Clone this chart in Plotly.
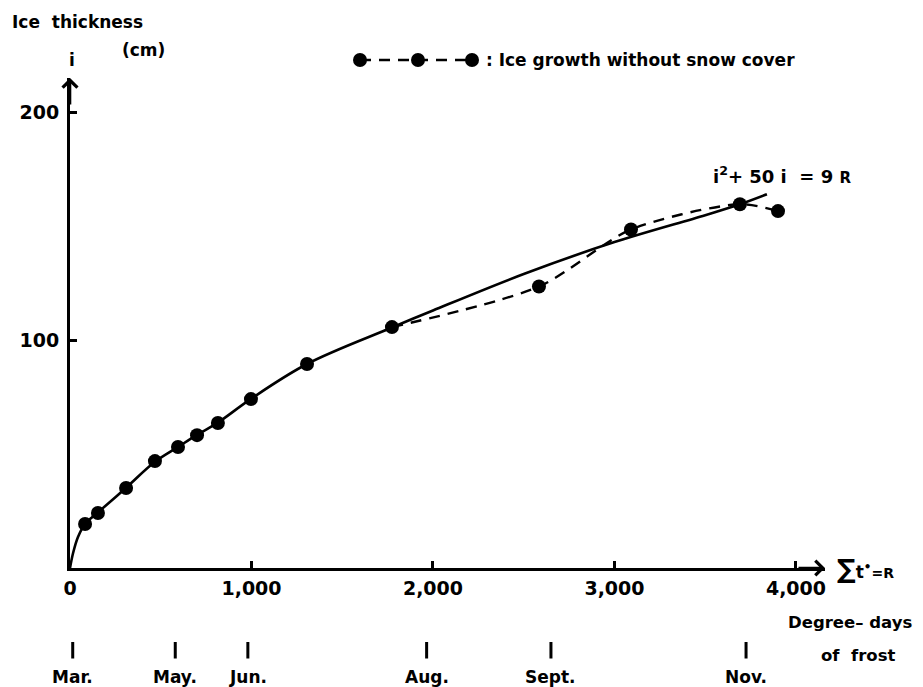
import plotly.graph_objects as go

# ---- data ----
R_obs = [83, 154, 309, 468, 595, 700, 815, 997, 1306, 1774, 2584, 3091, 3691, 3901]
i_obs = [19.3, 24.1, 35.1, 46.9, 53.1, 58.3, 63.6, 74.1, 89.5, 105.7, 123.5, 148.5, 159.6, 156.6]

# fitted curve i^2 + 50 i = 9R (as drawn)
R_fit = [0, 17, 44, 83, 154, 309, 468, 595, 700, 815, 997, 1306, 1774, 2000, 2500, 3000, 3500, 3691, 3840]
i_fit = [0, 6.6, 13.6, 19.3, 24.4, 35.2, 46.6, 53.1, 58.4, 63.8, 74.2, 89.5, 105.5, 113.0, 129.0, 143.0, 154.8, 159.6, 164.0]

# without snow cover (dashed), from Aug. onward
R_dash = R_obs[9:]
i_dash = i_obs[9:]

x_ticks = [0, 1000, 2000, 3000, 4000]
x_ticktext = ["0", "1,000", "2,000", "3,000", "4,000"]
y_ticks = [100, 200]
y_ticktext = ["100", "200"]

months = ["Mar.", "May.", "Jun.", "Aug.", "Sept.", "Nov."]
month_R = [15, 580, 980, 1965, 2650, 3725]

FONT = "DejaVu Sans"
W, H = 923, 687
L, R_, T, B = 70, 98, 78, 119
PW, PH = W - L - R_, H - T - B
XMAX, YMAX = 4160, 215


def px(x):
    return (x - L) / PW


def py(y):
    return (H - B - y) / PH


fig = go.Figure()

fig.add_trace(go.Scatter(
    x=R_fit, y=i_fit, mode="lines", line=dict(color="black", width=2.6, shape="spline", smoothing=1.0),
    hoverinfo="skip", showlegend=False))

fig.add_trace(go.Scatter(
    x=R_dash, y=i_dash, mode="lines", line=dict(color="black", width=2.4, dash="11px,8px", shape="spline", smoothing=0.8),
    hoverinfo="skip", showlegend=False))

fig.add_trace(go.Scatter(
    x=R_obs, y=i_obs, mode="markers", marker=dict(color="black", size=14),
    showlegend=False, cliponaxis=False))

annotations = []
# axis arrows
annotations.append(dict(x=XMAX, y=0, xref="x", yref="y", ax=-28, ay=0, text="", showarrow=True,
                        arrowhead=4, arrowwidth=2.6, arrowsize=1.1, arrowcolor="black"))
annotations.append(dict(x=0, y=YMAX, xref="x", yref="y", ax=0, ay=28, text="", showarrow=True,
                        arrowhead=4, arrowwidth=2.6, arrowsize=1.1, arrowcolor="black"))

# month bars and labels
for m, r in zip(months, month_R):
    annotations.append(dict(x=r, y=py(642), xref="x", yref="paper", ax=0, ay=18, text="",
                            showarrow=True, arrowhead=0, arrowwidth=3, arrowcolor="black", standoff=0))
    annotations.append(dict(x=r, y=py(677), xref="x", yref="paper", text=m, showarrow=False,
                            xanchor="center", yanchor="middle",
                            font=dict(family=FONT, size=17, color="black", weight="bold")))


def txt(text, x, y, anchor="left", size=17):
    annotations.append(dict(text=text, x=px(x), y=py(y), xref="paper", yref="paper",
                            xanchor=anchor, yanchor="middle", showarrow=False,
                            font=dict(family=FONT, size=size, color="black", weight="bold")))


txt("Ice  thickness", 10, 22)
txt("(cm)", 120, 50)
txt("i", 72, 60, "center")
txt(": Ice growth without snow cover", 484, 60)
txt("i<sup>2</sup>+ 50 i  = 9 <span style='font-size:15px'>R</span>", 782, 175, "center", 18)
txt("<span style='font-size:26px'>∑</span>t<sup>•</sup><span style='font-size:14px'>=R</span>", 835, 569)
txt("Degree– days", 786, 622, "left", 16.5)
txt("of  frost", 858, 655, "center", 16.5)

shapes = []
# legend sample
shapes.append(dict(type="line", xref="paper", yref="paper", x0=px(360), x1=px(472), y0=py(60), y1=py(60),
                   line=dict(color="black", width=2.4, dash="11px,8px")))
for cx in (360, 418, 472):
    r = 7
    shapes.append(dict(type="circle", xref="paper", yref="paper",
                       x0=px(cx - r), x1=px(cx + r), y0=py(60 + r), y1=py(60 - r),
                       fillcolor="black", line=dict(color="black", width=0)))

fig.update_layout(
    width=W, height=H,
    margin=dict(l=L, r=R_, t=T, b=B),
    paper_bgcolor="white", plot_bgcolor="white",
    annotations=annotations, shapes=shapes,
    xaxis=dict(range=[0, XMAX], showgrid=False, zeroline=False, showline=True, linecolor="black", linewidth=3,
               ticks="inside", ticklen=7, tickwidth=2.5, tickcolor="black",
               tickvals=x_ticks, ticktext=x_ticktext, ticklabelstandoff=1,
               tickfont=dict(family=FONT, size=19, color="black", weight="bold")),
    yaxis=dict(range=[0, YMAX], showgrid=False, zeroline=False, showline=True, linecolor="black", linewidth=3,
               ticks="inside", ticklen=7, tickwidth=2.5, tickcolor="black",
               tickvals=y_ticks, ticktext=y_ticktext, ticklabelstandoff=4,
               tickfont=dict(family=FONT, size=19, color="black", weight="bold")),
    showlegend=False,
)

fig.write_html("out.html", config={"displayModeBar": False},
               post_script="document.body.style.margin='0';")
